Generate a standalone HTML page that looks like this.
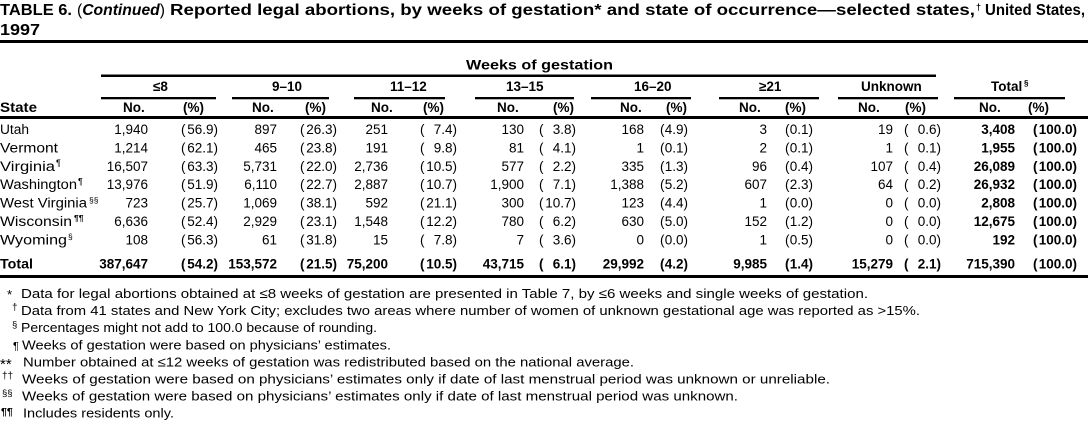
<!DOCTYPE html>
<html>
<head>
<meta charset="utf-8">
<style>
  html,body{margin:0;padding:0;background:#fff;}
  svg{display:block;}
  text{font-family:"Liberation Sans",Arial,sans-serif;font-size:13.5px;fill:#000;}
  .e{text-anchor:end;}
  .b{font-weight:bold;}
  .fn{font-size:13.3px;}
</style>
</head>
<body>
<svg width="1088" height="427" viewBox="0 0 1088 427" xmlns="http://www.w3.org/2000/svg">
<rect width="1088" height="427" fill="#fff"/>

<!-- Title -->
<text x="0" y="15" class="b" style="font-size:15.5px" textLength="72" lengthAdjust="spacingAndGlyphs">TABLE 6.</text>
<text x="77" y="15" class="b" style="font-size:15.5px" textLength="88" lengthAdjust="spacingAndGlyphs"><tspan font-weight="normal">(</tspan><tspan font-style="italic">Continued</tspan><tspan font-weight="normal">)</tspan></text>
<text x="170" y="15" class="b" style="font-size:15.5px" textLength="805" lengthAdjust="spacingAndGlyphs">Reported legal abortions, by weeks of gestation* and state of occurrence—selected states,</text>
<text x="976" y="10" class="b" style="font-size:9px">†</text>
<text x="985" y="15" class="b" style="font-size:15.5px" textLength="100" lengthAdjust="spacingAndGlyphs">United States,</text>
<text x="0" y="35" class="b" style="font-size:15.5px" textLength="40" lengthAdjust="spacingAndGlyphs">1997</text>

<!-- Rules -->
<rect x="0" y="40" width="1088" height="3" fill="#000"/>
<rect x="101" y="74.5" width="835" height="2.5" fill="#000"/>
<rect x="101" y="97" width="115" height="2.3" fill="#000"/>
<rect x="232" y="97" width="97" height="2.3" fill="#000"/>
<rect x="354" y="97" width="91" height="2.3" fill="#000"/>
<rect x="475" y="97" width="99" height="2.3" fill="#000"/>
<rect x="591" y="97" width="100" height="2.3" fill="#000"/>
<rect x="719" y="97" width="100" height="2.3" fill="#000"/>
<rect x="838" y="97" width="100" height="2.3" fill="#000"/>
<rect x="954" y="97" width="111" height="2.3" fill="#000"/>
<rect x="0" y="116" width="1088" height="3" fill="#000"/>
<rect x="0" y="275" width="1088" height="3" fill="#000"/>

<!-- Header -->
<text x="466" y="69.5" class="b" textLength="147" lengthAdjust="spacingAndGlyphs">Weeks of gestation</text>
<text y="91" class="b">
  <tspan x="153">≤8</tspan>
  <tspan x="272">9–10</tspan>
  <tspan x="390">11–12</tspan>
  <tspan x="506">13–15</tspan>
  <tspan x="634">16–20</tspan>
  <tspan x="759">≥21</tspan>
  <tspan x="861">Unknown</tspan>
  <tspan x="991">Total</tspan>
</text>
<text x="1024" y="86" class="b" style="font-size:8px">§</text>

<text x="0" y="112" class="b" textLength="37" lengthAdjust="spacingAndGlyphs">State</text>
<text y="112" class="b">
  <tspan x="123">No.</tspan><tspan x="183">(%)</tspan>
  <tspan x="252">No.</tspan><tspan x="305">(%)</tspan>
  <tspan x="371">No.</tspan><tspan x="423">(%)</tspan>
  <tspan x="497">No.</tspan><tspan x="553">(%)</tspan>
  <tspan x="620">No.</tspan><tspan x="666">(%)</tspan>
  <tspan x="739">No.</tspan><tspan x="785">(%)</tspan>
  <tspan x="858">No.</tspan><tspan x="905">(%)</tspan>
  <tspan x="979">No.</tspan><tspan x="1028">(%)</tspan>
</text>

<!-- Row labels -->
<text x="0" y="134" textLength="29" lengthAdjust="spacingAndGlyphs">Utah</text>
<text x="0" y="152.4" textLength="58" lengthAdjust="spacingAndGlyphs">Vermont</text>
<text x="0" y="170.8" textLength="55" lengthAdjust="spacingAndGlyphs">Virginia</text>
<text x="56" y="166" style="font-size:9px">¶</text>
<text x="0" y="189.2" textLength="77" lengthAdjust="spacingAndGlyphs">Washington</text>
<text x="78" y="184.4" style="font-size:9px">¶</text>
<text x="0" y="207.6" textLength="87" lengthAdjust="spacingAndGlyphs">West Virginia</text>
<text x="89" y="202.8" style="font-size:8.5px">§§</text>
<text x="0" y="226" textLength="72" lengthAdjust="spacingAndGlyphs">Wisconsin</text>
<text x="74" y="221.2" class="b" style="font-size:8.5px">¶¶</text>
<text x="0" y="244.4" textLength="67" lengthAdjust="spacingAndGlyphs">Wyoming</text>
<text x="68" y="239.6" style="font-size:8.5px">§</text>
<text x="0" y="268.3" class="b" textLength="33" lengthAdjust="spacingAndGlyphs">Total</text>

<!-- Utah -->
<text y="134" class="e"><tspan x="148">1,940</tspan><tspan x="218">56.9)</tspan><tspan x="277">897</tspan><tspan x="337">26.3)</tspan><tspan x="388">251</tspan><tspan x="457">7.4)</tspan><tspan x="524">130</tspan><tspan x="576">3.8)</tspan><tspan x="644">168</tspan><tspan x="688">4.9)</tspan><tspan x="767">3</tspan><tspan x="813">0.1)</tspan><tspan x="893">19</tspan><tspan x="941">0.6)</tspan><tspan x="1015" class="b">3,408</tspan><tspan x="1077" class="b">100.0)</tspan></text>
<text y="134"><tspan x="181">(</tspan><tspan x="300">(</tspan><tspan x="420">(</tspan><tspan x="539">(</tspan><tspan x="660">(</tspan><tspan x="785">(</tspan><tspan x="904">(</tspan><tspan x="1033" class="b">(</tspan></text>

<!-- Vermont -->
<text y="152.4" class="e"><tspan x="148">1,214</tspan><tspan x="218">62.1)</tspan><tspan x="277">465</tspan><tspan x="337">23.8)</tspan><tspan x="388">191</tspan><tspan x="457">9.8)</tspan><tspan x="524">81</tspan><tspan x="576">4.1)</tspan><tspan x="644">1</tspan><tspan x="688">0.1)</tspan><tspan x="767">2</tspan><tspan x="813">0.1)</tspan><tspan x="893">1</tspan><tspan x="941">0.1)</tspan><tspan x="1015" class="b">1,955</tspan><tspan x="1077" class="b">100.0)</tspan></text>
<text y="152.4"><tspan x="181">(</tspan><tspan x="300">(</tspan><tspan x="420">(</tspan><tspan x="539">(</tspan><tspan x="660">(</tspan><tspan x="785">(</tspan><tspan x="904">(</tspan><tspan x="1033" class="b">(</tspan></text>

<!-- Virginia -->
<text y="170.8" class="e"><tspan x="148">16,507</tspan><tspan x="218">63.3)</tspan><tspan x="277">5,731</tspan><tspan x="337">22.0)</tspan><tspan x="388">2,736</tspan><tspan x="457">10.5)</tspan><tspan x="524">577</tspan><tspan x="576">2.2)</tspan><tspan x="644">335</tspan><tspan x="688">1.3)</tspan><tspan x="767">96</tspan><tspan x="813">0.4)</tspan><tspan x="893">107</tspan><tspan x="941">0.4)</tspan><tspan x="1015" class="b">26,089</tspan><tspan x="1077" class="b">100.0)</tspan></text>
<text y="170.8"><tspan x="181">(</tspan><tspan x="300">(</tspan><tspan x="420">(</tspan><tspan x="539">(</tspan><tspan x="660">(</tspan><tspan x="785">(</tspan><tspan x="904">(</tspan><tspan x="1033" class="b">(</tspan></text>

<!-- Washington -->
<text y="189.2" class="e"><tspan x="148">13,976</tspan><tspan x="218">51.9)</tspan><tspan x="277">6,110</tspan><tspan x="337">22.7)</tspan><tspan x="388">2,887</tspan><tspan x="457">10.7)</tspan><tspan x="524">1,900</tspan><tspan x="576">7.1)</tspan><tspan x="644">1,388</tspan><tspan x="688">5.2)</tspan><tspan x="767">607</tspan><tspan x="813">2.3)</tspan><tspan x="893">64</tspan><tspan x="941">0.2)</tspan><tspan x="1015" class="b">26,932</tspan><tspan x="1077" class="b">100.0)</tspan></text>
<text y="189.2"><tspan x="181">(</tspan><tspan x="300">(</tspan><tspan x="420">(</tspan><tspan x="539">(</tspan><tspan x="660">(</tspan><tspan x="785">(</tspan><tspan x="904">(</tspan><tspan x="1033" class="b">(</tspan></text>

<!-- West Virginia -->
<text y="207.6" class="e"><tspan x="148">723</tspan><tspan x="218">25.7)</tspan><tspan x="277">1,069</tspan><tspan x="337">38.1)</tspan><tspan x="388">592</tspan><tspan x="457">21.1)</tspan><tspan x="524">300</tspan><tspan x="576">10.7)</tspan><tspan x="644">123</tspan><tspan x="688">4.4)</tspan><tspan x="767">1</tspan><tspan x="813">0.0)</tspan><tspan x="893">0</tspan><tspan x="941">0.0)</tspan><tspan x="1015" class="b">2,808</tspan><tspan x="1077" class="b">100.0)</tspan></text>
<text y="207.6"><tspan x="181">(</tspan><tspan x="300">(</tspan><tspan x="420">(</tspan><tspan x="539">(</tspan><tspan x="660">(</tspan><tspan x="785">(</tspan><tspan x="904">(</tspan><tspan x="1033" class="b">(</tspan></text>

<!-- Wisconsin -->
<text y="226" class="e"><tspan x="148">6,636</tspan><tspan x="218">52.4)</tspan><tspan x="277">2,929</tspan><tspan x="337">23.1)</tspan><tspan x="388">1,548</tspan><tspan x="457">12.2)</tspan><tspan x="524">780</tspan><tspan x="576">6.2)</tspan><tspan x="644">630</tspan><tspan x="688">5.0)</tspan><tspan x="767">152</tspan><tspan x="813">1.2)</tspan><tspan x="893">0</tspan><tspan x="941">0.0)</tspan><tspan x="1015" class="b">12,675</tspan><tspan x="1077" class="b">100.0)</tspan></text>
<text y="226"><tspan x="181">(</tspan><tspan x="300">(</tspan><tspan x="420">(</tspan><tspan x="539">(</tspan><tspan x="660">(</tspan><tspan x="785">(</tspan><tspan x="904">(</tspan><tspan x="1033" class="b">(</tspan></text>

<!-- Wyoming -->
<text y="244.4" class="e"><tspan x="148">108</tspan><tspan x="218">56.3)</tspan><tspan x="277">61</tspan><tspan x="337">31.8)</tspan><tspan x="388">15</tspan><tspan x="457">7.8)</tspan><tspan x="524">7</tspan><tspan x="576">3.6)</tspan><tspan x="644">0</tspan><tspan x="688">0.0)</tspan><tspan x="767">1</tspan><tspan x="813">0.5)</tspan><tspan x="893">0</tspan><tspan x="941">0.0)</tspan><tspan x="1015" class="b">192</tspan><tspan x="1077" class="b">100.0)</tspan></text>
<text y="244.4"><tspan x="181">(</tspan><tspan x="300">(</tspan><tspan x="420">(</tspan><tspan x="539">(</tspan><tspan x="660">(</tspan><tspan x="785">(</tspan><tspan x="904">(</tspan><tspan x="1033" class="b">(</tspan></text>

<!-- Total -->
<text y="268.3" class="e b"><tspan x="148">387,647</tspan><tspan x="218">54.2)</tspan><tspan x="277">153,572</tspan><tspan x="337">21.5)</tspan><tspan x="388">75,200</tspan><tspan x="457">10.5)</tspan><tspan x="524">43,715</tspan><tspan x="576">6.1)</tspan><tspan x="644">29,992</tspan><tspan x="688">4.2)</tspan><tspan x="767">9,985</tspan><tspan x="813">1.4)</tspan><tspan x="893">15,279</tspan><tspan x="941">2.1)</tspan><tspan x="1015">715,390</tspan><tspan x="1077">100.0)</tspan></text>
<text y="268.3" class="b"><tspan x="181">(</tspan><tspan x="300">(</tspan><tspan x="420">(</tspan><tspan x="539">(</tspan><tspan x="660">(</tspan><tspan x="785">(</tspan><tspan x="904">(</tspan><tspan x="1033">(</tspan></text>

<!-- Footnotes -->
<text x="7" y="299" class="fn">*</text>
<text x="21" y="298" class="fn" textLength="847" lengthAdjust="spacingAndGlyphs">Data for legal abortions obtained at ≤8 weeks of gestation are presented in Table 7, by ≤6 weeks and single weeks of gestation.</text>

<text x="12" y="310.5" class="fn" style="font-size:10px">†</text>
<text x="21" y="315.1" class="fn" textLength="899" lengthAdjust="spacingAndGlyphs">Data from 41 states and New York City; excludes two areas where number of women of unknown gestational age was reported as &gt;15%.</text>

<text x="12" y="327.6" class="fn" style="font-size:9.5px">§</text>
<text x="21" y="332.2" class="fn" textLength="356" lengthAdjust="spacingAndGlyphs">Percentages might not add to 100.0 because of rounding.</text>

<text x="13" y="349.3" class="fn" style="font-size:11px">¶</text>
<text x="22" y="349.3" class="fn" textLength="369" lengthAdjust="spacingAndGlyphs">Weeks of gestation were based on physicians’ estimates.</text>

<text x="0" y="369" class="fn" style="font-size:15px">**</text>
<text x="23" y="366.4" class="fn" textLength="611" lengthAdjust="spacingAndGlyphs">Number obtained at ≤12 weeks of gestation was redistributed based on the national average.</text>

<text x="2" y="378.9" class="fn" style="font-size:10px">††</text>
<text x="22" y="383.5" class="fn" textLength="808" lengthAdjust="spacingAndGlyphs">Weeks of gestation were based on physicians’ estimates only if date of last menstrual period was unknown or unreliable.</text>

<text x="2" y="396" class="fn" style="font-size:9.5px">§§</text>
<text x="22" y="400.6" class="fn" textLength="716" lengthAdjust="spacingAndGlyphs">Weeks of gestation were based on physicians’ estimates only if date of last menstrual period was unknown.</text>

<text x="1" y="415" class="fn b" style="font-size:10.5px">¶¶</text>
<text x="23" y="417.7" class="fn" textLength="151" lengthAdjust="spacingAndGlyphs">Includes residents only.</text>
</svg>
</body>
</html>
